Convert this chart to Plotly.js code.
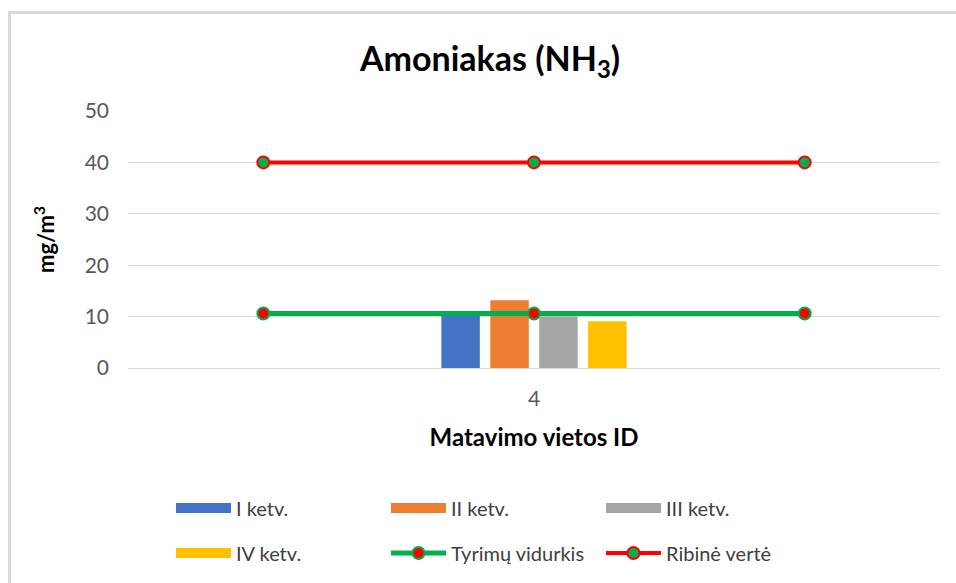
<!DOCTYPE html>
<html>
<head>
<meta charset="utf-8">
<script src="https://cdn.plot.ly/plotly-3.0.1.min.js"></script>
<style>html,body{margin:0;padding:0;background:#fff;}#chart{width:956px;height:583px;}</style>
</head>
<body>
<div id="chart"></div>
<script>
// ---- data ----
const categories = ['4'];
const quarterNames = ['I ketv.', 'II ketv.', 'III ketv.', 'IV ketv.'];
const quarterValues = [[10.1], [13.2], [10.0], [9.1]];
const quarterColors = ['#4472C4', '#ED7D31', '#A5A5A5', '#FFC000'];
const linePoints = ['a', 'b', 'c'];
const averageName = 'Tyrimų vidurkis';
const averageValues = [10.6, 10.6, 10.6];
const limitName = 'Ribinė vertė';
const limitValues = [40, 40, 40];
const yTicks = [0, 10, 20, 30, 40, 50];

const FONT = 'Lato, "Open Sans", sans-serif';
const traces = [];
// bars (drawn from data)
quarterNames.forEach((n, i) => {
  traces.push({
    type: 'bar', name: n, x: categories, y: quarterValues[i],
    marker: {color: quarterColors[i]}, xaxis: 'x', yaxis: 'y',
    showlegend: false, legendgroup: n, hoverinfo: 'y'
  });
});
// legend swatches for the bars (wide rectangles like the original)
quarterNames.forEach((n, i) => {
  traces.push({
    type: 'scatter', mode: 'lines', name: n, x: [null], y: [null],
    line: {color: quarterColors[i], width: 15}, xaxis: 'x', yaxis: 'y',
    legendgroup: n, legend: i < 3 ? 'legend' : 'legend2', hoverinfo: 'skip'
  });
});
traces.push({
  type: 'scatter', mode: 'lines+markers', name: averageName, x: linePoints, y: averageValues,
  xaxis: 'x2', yaxis: 'y', legend: 'legend2',
  line: {color: '#00B050', width: 5},
  marker: {color: '#FF0000', size: 12, line: {color: '#00B050', width: 2}}
});
traces.push({
  type: 'scatter', mode: 'lines+markers', name: limitName, x: linePoints, y: limitValues,
  xaxis: 'x2', yaxis: 'y', legend: 'legend2',
  line: {color: '#FF0000', width: 4},
  marker: {color: '#00B050', size: 12, line: {color: '#FF0000', width: 2}}
});

const L = 128, R = 16, T = 111, B = 215;
const pw = 956 - L - R, ph = 583 - T - B;
const legendCommon = {
  orientation: 'h', xanchor: 'left', yanchor: 'middle',
  entrywidth: 145, entrywidthmode: 'pixels', itemwidth: 55,
  font: {family: FONT, size: 20, color: '#404040'}, bgcolor: 'rgba(0,0,0,0)',
  traceorder: 'normal'
};
const layout = {
  width: 956, height: 583,
  margin: {l: L, r: R, t: T, b: B, autoexpand: false},
  paper_bgcolor: '#fff', plot_bgcolor: '#fff',
  font: {family: FONT, color: '#595959'},
  title: {
    text: '<b>Amoniakas (NH<sub>3</sub>)</b>',
    font: {family: FONT, size: 34, color: '#000'},
    xref: 'container', x: 490 / 956, xanchor: 'center',
    yref: 'container', y: 1 - 59 / 583, yanchor: 'middle'
  },
  barmode: 'group', bargap: 0.759, bargroupgap: 0.214,
  xaxis: {
    type: 'category', showgrid: false, zeroline: false, showline: false, ticks: '',
    tickfont: {family: FONT, size: 21, color: '#595959'}, ticklabelstandoff: 16,
    title: {text: '<b>Matavimo vietos ID</b>', font: {family: FONT, size: 24, color: '#000'}, standoff: 20},
    fixedrange: true
  },
  xaxis2: {type: 'category', overlaying: 'x', visible: false, range: [-0.5, 2.5], fixedrange: true},
  yaxis: {
    range: [0, 50], tickvals: yTicks, showgrid: true, gridcolor: '#D9D9D9', gridwidth: 1,
    zeroline: true, zerolinecolor: '#D9D9D9', zerolinewidth: 1, showline: false, ticks: '',
    tickfont: {family: FONT, size: 21, color: '#595959'}, ticklabelstandoff: 18,
    title: {text: '<b>mg/m<sup>3</sup></b>', font: {family: FONT, size: 22, color: '#000'}, standoff: 23},
    fixedrange: true
  },
  legend: Object.assign({}, legendCommon, {x: (171 - L) / pw, y: -(508 - (T + ph)) / ph}),
  legend2: Object.assign({}, legendCommon, {x: (171 - L) / pw, y: -(553 - (T + ph)) / ph}),
  shapes: [{
    type: 'rect', xref: 'paper', yref: 'paper', layer: 'below',
    x0: (9.5 - L) / pw, x1: 1.2, y0: -1.2, y1: (T + ph - 12.5) / ph,
    line: {color: '#D9D9D9', width: 3}, fillcolor: 'rgba(0,0,0,0)'
  }],
  showlegend: true
};
Plotly.newPlot('chart', traces, layout, {displayModeBar: false, responsive: false});
</script>
</body>
</html>
